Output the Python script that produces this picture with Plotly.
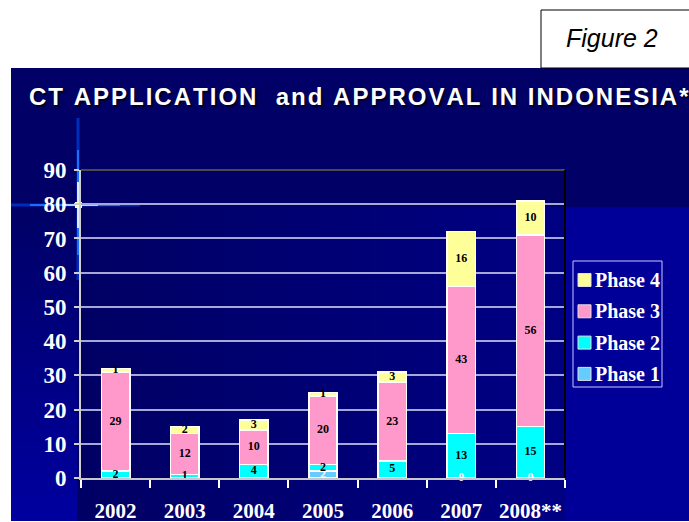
import plotly.graph_objects as go

# ---- data -------------------------------------------------------------
years = ["2002", "2003", "2004", "2005", "2006", "2007", "2008**"]
phase1 = [None, None, None, 2, None, 0, 0]
phase2 = [2, 1, 4, 2, 5, 13, 15]
phase3 = [29, 12, 10, 20, 23, 43, 56]
phase4 = [1, 2, 3, 1, 3, 16, 10]

series_names = ["Phase 1", "Phase 2", "Phase 3", "Phase 4"]
series_values = [phase1, phase2, phase3, phase4]
series_colors = ["#66ccff", "#00ffff", "#ff99cc", "#ffff99"]
label_colors = ["white", "black", "black", "black"]

y_ticks = list(range(0, 100, 10))

# ---- geometry helpers (pixel -> paper) ---------------------------------
W, H = 689, 522
L, R, T, B = 81, 565, 170, 478          # plot area in pixels


def px(x):
    return (x - L) / (R - L)


def py(y):
    return (B - y) / (B - T)


fig = go.Figure()

# stacked bars
for name, vals, col in zip(series_names, series_values, series_colors):
    fig.add_trace(go.Bar(
        x=years, y=[v if v is not None else 0 for v in vals], name=name,
        marker=dict(color=col, line=dict(color="white", width=1.5)),
        hoverinfo="skip", showlegend=False,
    ))

# segment value labels, placed at the middle of each stacked segment
base = [0] * len(years)
for vals, tcol in zip(series_values, label_colors):
    xs, ys, txt = [], [], []
    for i, v in enumerate(vals):
        if v is None:
            continue
        xs.append(years[i])
        ys.append(base[i] + v / 2)
        txt.append(str(v))
        base[i] += v
    fig.add_trace(go.Scatter(
        x=xs, y=ys, text=txt, mode="text", showlegend=False,
        textfont=dict(family="Liberation Serif", size=12, color=tcol, weight="bold"),
        cliponaxis=False, hoverinfo="skip",
    ))

shapes = []
annotations = []


def rect(x0, y0, x1, y1, color, line=None, layer="below"):
    shapes.append(dict(
        type="rect", xref="paper", yref="paper", layer=layer,
        x0=px(x0), x1=px(x1), y0=py(y0), y1=py(y1),
        fillcolor=color, line=line or dict(width=0),
    ))


def seg(x0, y0, x1, y1, color, width, layer="below"):
    shapes.append(dict(
        type="line", xref="paper", yref="paper", layer=layer,
        x0=px(x0), x1=px(x1), y0=py(y0), y1=py(y1),
        line=dict(color=color, width=width),
    ))


# slide background
rect(11, 68, W + 2, 521, "rgb(0,0,102)")
rect(R, 207, W + 2, 521, "rgb(0,0,153)")
# left strip: vertical gradient
n = 24
for k in range(n):
    y0 = 207 + (521 - 207) * k / n
    y1 = 207 + (521 - 207) * (k + 1) / n
    b = int(102 + (160 - 102) * (k + 0.5) / n)
    rect(11, y0, 77, min(y1 + 0.5, 521), f"rgb(0,0,{b})")
# chart backdrop: horizontal gradient
n = 30
for k in range(n):
    x0 = 77 + (R - 77) * k / n
    x1 = 77 + (R - 77) * (k + 1) / n
    b = int(100 + (132 - 100) * (k + 0.5) / n)
    rect(x0, 207, x1 + 0.5, 521, f"rgb(0,0,{b})")

# light flare on the axis near 80
seg(11, 205, 140, 205, "rgba(0,80,255,0.55)", 3)
seg(30, 205, 120, 205, "rgba(30,120,255,0.9)", 2)
seg(62, 205, 98, 205, "rgba(170,210,255,1)", 2)
seg(78, 118, 78, 280, "rgba(0,80,255,0.55)", 3)
seg(78, 150, 78, 255, "rgba(30,120,255,0.9)", 2)
seg(78, 182, 78, 228, "rgba(220,235,255,1)", 2)
rect(75, 202, 82, 208, "rgba(255,255,200,1)")

# plot frame: dark top edge, black right edge
seg(L, T, R, T, "#4a4a4a", 2, layer="above")
seg(R, T, R, B, "black", 2, layer="above")

# "Figure 2" box
rect(541, 10, W + 3, 68, "white", line=dict(color="black", width=1))

# legend box, with series listed top-down from Phase 4
rect(573, 261, 662, 387, "rgba(0,0,0,0)", line=dict(color="#c8c8ff", width=1))
for j, (name, col) in enumerate(zip(series_names[::-1], series_colors[::-1])):
    yc = 280 + j * 31.3
    rect(578, yc - 6.5, 591, yc + 6.5, col,
         line=dict(color="#e0e0e0", width=1), layer="above")
    annotations.append(dict(
        text=name, xref="paper", yref="paper", x=px(593), y=py(yc),
        xanchor="left", yanchor="middle", showarrow=False,
        font=dict(family="Liberation Serif", size=20, color="white", weight="bold"),
    ))

title = "CT APPLICATION  and APPROVAL IN INDONESIA*"
annotations += [
    dict(text="\u200a".join(title), xref="paper", yref="paper",
         x=px(27), y=py(97), xanchor="left", yanchor="middle", showarrow=False,
         font=dict(family="Liberation Sans", size=24, color="white", weight="bold",
                   shadow="2px 2px 1px #00002a")),
    dict(text="<i>Figure 2</i>", xref="paper", yref="paper",
         x=px(564), y=py(38), xanchor="left", yanchor="middle", showarrow=False,
         font=dict(family="Liberation Sans", size=25, color="black")),
]

fig.update_layout(
    width=W, height=H,
    margin=dict(l=L, r=W - R, t=T, b=H - B, pad=0, autoexpand=False),
    paper_bgcolor="white",
    plot_bgcolor="rgba(0,0,0,0)",
    barmode="stack", bargap=0.59,
    shapes=shapes, annotations=annotations,
    showlegend=False,
    xaxis=dict(
        type="category", showgrid=False, zeroline=False, automargin=False,
        showline=True, linecolor="#c8c8c8", linewidth=2,
        ticks="outside", tickson="boundaries", ticklen=8,
        tickcolor="white", tickwidth=1.5, tickangle=0,
        tickfont=dict(family="Liberation Serif", size=21, color="white", weight="bold"),
        ticklabelstandoff=13,
    ),
    yaxis=dict(
        range=[0, 90], tickvals=y_ticks, ticktext=[str(v) for v in y_ticks],
        showgrid=True, gridcolor="#a8a8d8", gridwidth=2, zeroline=False,
        automargin=False,
        showline=True, linecolor="#d0d0d0", linewidth=2,
        ticks="outside", ticklen=5, tickcolor="#d0d0d0", tickwidth=2,
        tickfont=dict(family="Liberation Serif", size=23, color="white", weight="bold"),
        ticklabelstandoff=3,
    ),
)

fig.write_html("out.html")
